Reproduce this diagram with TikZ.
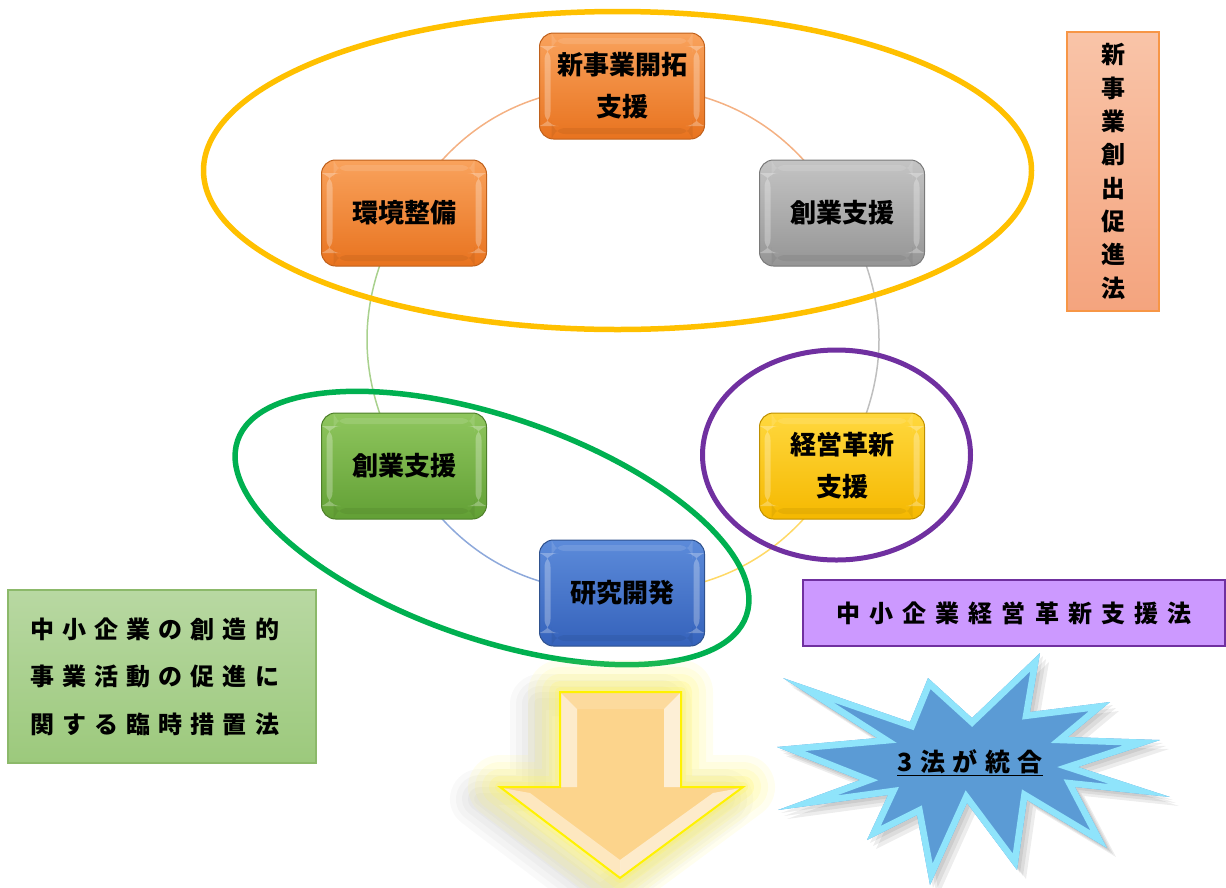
\documentclass[tikz,border=0pt]{standalone}
\usepackage{fontspec}
\newfontfamily\jp{Noto Sans CJK JP}
\newfontfamily\jpls{Noto Sans CJK JP}[LetterSpace=34]
\newfontfamily\jplsb{Noto Sans CJK JP}[LetterSpace=38]
\newfontfamily\jplsc{Noto Sans CJK JP}[LetterSpace=30]
\usetikzlibrary{backgrounds}
\definecolor{cOrT}{HTML}{F9A25C}\definecolor{cOrB}{HTML}{E8731F}\definecolor{cOrD}{HTML}{C0611C}
\definecolor{cGrT}{HTML}{C4C4C4}\definecolor{cGrB}{HTML}{959595}\definecolor{cGrD}{HTML}{7A7A7A}
\definecolor{cGnT}{HTML}{8FC65E}\definecolor{cGnB}{HTML}{62A035}\definecolor{cGnD}{HTML}{4E7F2A}
\definecolor{cYeT}{HTML}{FFD83E}\definecolor{cYeB}{HTML}{F5B800}\definecolor{cYeD}{HTML}{BF9000}
\definecolor{cBlT}{HTML}{5C8BDA}\definecolor{cBlB}{HTML}{3562BB}\definecolor{cBlD}{HTML}{2F528F}
\definecolor{aOr}{HTML}{F4B183}\definecolor{aGr}{HTML}{BFBFBF}\definecolor{aYe}{HTML}{FFD966}
\definecolor{aBl}{HTML}{8EA9DB}\definecolor{aGn}{HTML}{A9D18E}
\definecolor{elO}{HTML}{FFC000}\definecolor{elG}{HTML}{00B050}\definecolor{elP}{HTML}{7030A0}
\definecolor{vT}{HTML}{F9C4A8}\definecolor{vB}{HTML}{F4A47E}\definecolor{vD}{HTML}{F79646}
\definecolor{gT}{HTML}{B8D8A2}\definecolor{gB}{HTML}{9CC97C}\definecolor{gD}{HTML}{8CB96A}
\definecolor{pF}{HTML}{CC99FF}
\definecolor{bF}{HTML}{5B9BD5}\definecolor{bE}{HTML}{8FE4FB}
\definecolor{arF}{HTML}{FCD48C}\definecolor{glowY}{HTML}{FFF566}
\tikzset{
  cbox/.style={rounded corners=14pt, minimum width=165pt, minimum height=106pt,
    align=center, inner sep=0pt, line width=1pt,
    font=\jp\bfseries\fontsize{26}{42}\selectfont,
    path picture={
      \fill[white,opacity=0.28] ([shift={(5pt,-13pt)}]path picture bounding box.north west) rectangle ([shift={(11pt,13pt)}]path picture bounding box.south west);
      \fill[white,opacity=0.28] ([shift={(-11pt,-13pt)}]path picture bounding box.north east) rectangle ([shift={(-5pt,13pt)}]path picture bounding box.south east);
      \fill[white,opacity=0.12] ([shift={(12pt,-5pt)}]path picture bounding box.north west) rectangle ([shift={(-12pt,-11pt)}]path picture bounding box.north east);
      \fill[black,opacity=0.06] ([shift={(12pt,5pt)}]path picture bounding box.south west) rectangle ([shift={(-12pt,11pt)}]path picture bounding box.south east);
    }},
  orbox/.style={cbox, top color=cOrT, bottom color=cOrB, draw=cOrD},
  grbox/.style={cbox, top color=cGrT, bottom color=cGrB, draw=cGrD},
  gnbox/.style={cbox, top color=cGnT, bottom color=cGnB, draw=cGnD},
  yebox/.style={cbox, top color=cYeT, bottom color=cYeB, draw=cYeD},
  blbox/.style={cbox, top color=cBlT, bottom color=cBlB, draw=cBlD},
  arc/.style={line width=1.5pt},
  ring/.style={line width=5.5pt},
}
\begin{document}
\begin{tikzpicture}[x=1pt,y=-1pt]
\useasboundingbox (0,0) rectangle (1226,887);
% boxes
\node[orbox] (kaitaku) at (622,86) {新事業開拓\\支援};
\node[grbox] (sogyoA) at (842,213) {創業支援};
\node[yebox] (keiei) at (842,466) {経営革新\\支援};
\node[blbox] (kenkyu) at (622,593) {研究開発};
\node[gnbox] (sogyoB) at (404,466) {創業支援};
\node[orbox] (kankyo) at (404,213) {環境整備};
% cycle arcs
\begin{scope}[on background layer]
\draw[arc,aOr] (kaitaku.center) to[bend left=30] (sogyoA.center);
\draw[arc,aGr] (sogyoA.center) to[bend left=30] (keiei.center);
\draw[arc,aYe] (keiei.center) to[bend left=30] (kenkyu.center);
\draw[arc,aBl] (kenkyu.center) to[bend left=30] (sogyoB.center);
\draw[arc,aGn] (sogyoB.center) to[bend left=30] (kankyo.center);
\draw[arc,aOr] (kankyo.center) to[bend left=30] (kaitaku.center);
\end{scope}
% ellipses
\draw[ring,elO] (617.5,170.5) ellipse [x radius=414pt, y radius=159pt];
\draw[ring,elG,rotate around={-19:(492,528)}] (492,528) ellipse [x radius=269pt, y radius=111pt];
\draw[ring,elP,line width=5pt] (836.5,455) ellipse [x radius=134pt, y radius=105pt];
% law boxes
\node[draw=vD, line width=1.5pt, top color=vT, bottom color=vB, minimum width=92pt, minimum height=279pt,
  align=center, inner sep=0pt, font=\jp\bfseries\fontsize{24}{33.3}\selectfont] (shinjigyo) at (1113,171.5)
  {新\\事\\業\\創\\出\\促\\進\\法};
\node[draw=gD, line width=1.5pt, top color=gT, bottom color=gB, minimum height=173pt,
  text width=264pt, inner xsep=22pt, inner ysep=0pt, align=left,
  font=\jpls\bfseries\fontsize{24}{47.5}\selectfont] (sozo) at (162,676.5)
  {中小企業の創造的\\事業活動の促進に\\関する臨時措置法};
\node[draw=elP, line width=1.5pt, fill=pF, minimum width=422pt, minimum height=66pt,
  inner sep=0pt, font=\jplsb\bfseries\fontsize{24}{30}\selectfont] (keieihou) at (1014,613)
  {中小企業経営革新支援法};
% down arrow
\def\arrowpath{(560,692) -- (681,692) -- (681,787) -- (743,787) -- (620,878) -- (500,787) -- (560,787) -- cycle}
\foreach \w in {60,48,36,24,12}{
  \draw[black,opacity=0.025,line width=\w pt,line join=round,shift={(-20pt,-12pt)}] \arrowpath;
}
\foreach \w/\o in {64/0.10,50/0.12,36/0.15,22/0.22,10/0.3}{
  \draw[glowY,opacity=\o,line width=\w pt,line join=round] \arrowpath;
}
\fill[arF] \arrowpath;
\fill[white,opacity=0.55] (561,693) -- (577,709) -- (577,787) -- (561,787) -- cycle;
\fill[white,opacity=0.65] (680,693) -- (664,709) -- (664,787) -- (680,787) -- cycle;
\fill[white,opacity=0.15] (561,693) -- (680,693) -- (664,709) -- (577,709) -- cycle;
\fill[white,opacity=0.45] (502,788) -- (620,877) -- (620,860) -- (530,793) -- cycle;
\fill[white,opacity=0.55] (741,788) -- (620,877) -- (620,860) -- (713,793) -- cycle;
\draw[yellow,line width=2pt,line join=miter] \arrowpath;
% burst
\def\burstpath{(783,678) -- (910,722) -- (928,678) -- (972,718) -- (1040,653) -- (1030,712) -- (1110,702) -- (1068,737) -- (1160,740) -- (1078,767) -- (1170,797) -- (1075,787) -- (1107,848) -- (1027,800) -- (1017,870) -- (967,803) -- (930,885) -- (917,815) -- (867,840) -- (888,795) -- (778,810) -- (860,780) -- (777,747) -- (877,738) -- cycle}
\foreach \s in {3,6,9}{
  \fill[black,opacity=0.07,shift={(\s pt,-\s pt)}] \burstpath;
}
\fill[bF] \burstpath;
\begin{scope}
\clip \burstpath;
\draw[bE,line width=13pt,line join=miter] \burstpath;
\end{scope}
\node[font=\jplsc\bfseries\fontsize{25}{30}\selectfont, inner sep=0pt] (togo) at (970,763) {\underline{3法が統合}};
\end{tikzpicture}
\end{document}
